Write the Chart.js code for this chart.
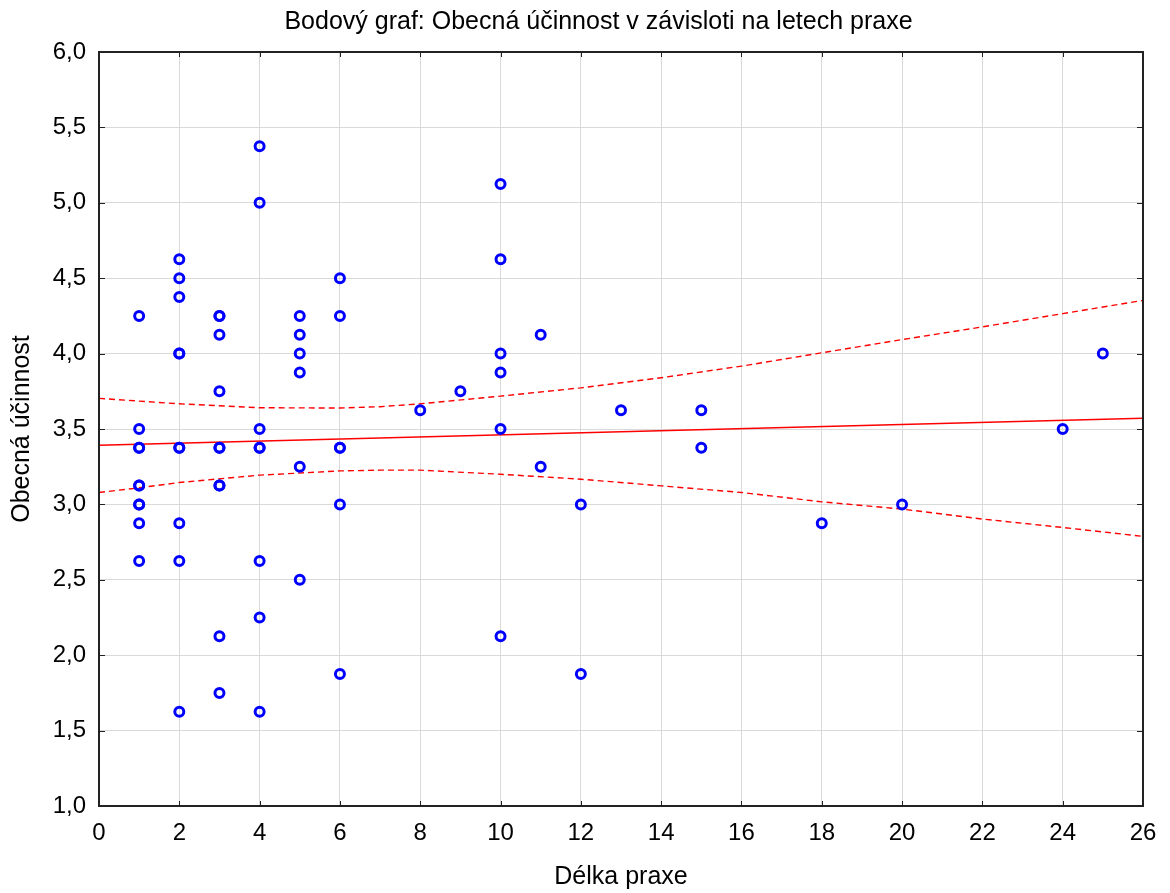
<!DOCTYPE html>
<html>
<head>
<meta charset="utf-8">
<script src="https://cdn.jsdelivr.net/npm/chart.js@4"></script>
<style>
  html, body { margin: 0; padding: 0; background: #fff; }
  #wrap { width: 1170px; height: 893px; }
</style>
</head>
<body>
<div id="wrap"><canvas id="myChart" width="1170" height="893"></canvas></div>
<script>
// Délka praxe (x) and Obecná účinnost (y) for each respondent
const praxe = [
  1, 1, 1, 1, 1, 1, 1, 1, 1, 1,
  2, 2, 2, 2, 2, 2, 2, 2, 2, 2,
  3, 3, 3, 3, 3, 3, 3, 3, 3, 3,
  4, 4, 4, 4, 4, 4, 4, 4,
  5, 5, 5, 5, 5, 5,
  6, 6, 6, 6, 6, 6,
  8, 9, 10, 10, 10, 10, 10, 10, 11, 11, 12, 12, 13, 15, 15, 18, 20, 24, 25
];
const ucinnost = [
  4.25, 3.5, 3.375, 3.375, 3.125, 3.125, 3.0, 3.0, 2.875, 2.625,
  4.625, 4.5, 4.375, 4.0, 4.0, 3.375, 3.375, 2.875, 2.625, 1.625,
  4.25, 4.25, 4.125, 3.75, 3.375, 3.375, 3.125, 3.125, 2.125, 1.75,
  5.375, 5.0, 3.5, 3.375, 3.375, 2.625, 2.25, 1.625,
  4.25, 4.125, 4.0, 3.875, 3.25, 2.5,
  4.5, 4.25, 3.375, 3.375, 3.0, 1.875,
  3.625, 3.75, 5.125, 4.625, 4.0, 3.875, 3.5, 2.125, 4.125, 3.25, 3.0, 1.875, 3.625, 3.625, 3.375, 2.875, 3.0, 3.5, 4.0
];

// regression line and 95% band
const fitX = [0, 26];
const fitY = [3.392, 3.571];
const bandX = [0, 1, 2, 4, 6, 7, 8, 10, 12, 14, 16, 18, 20, 22, 24, 26];
const bandUpper = [3.703, 3.685, 3.667, 3.641, 3.639, 3.648, 3.667, 3.718, 3.773, 3.84, 3.917, 4.005, 4.093, 4.177, 4.265, 4.353];
const bandLower = [3.079, 3.11, 3.145, 3.194, 3.222, 3.227, 3.227, 3.20, 3.167, 3.123, 3.079, 3.017, 2.969, 2.903, 2.847, 2.788];

function toPts(xs, ys) { return xs.map((x, i) => ({x: x, y: ys[i]})) }

const FONT = "'Liberation Sans', Arial, sans-serif";

// frame round the plot with short ticks pointing inwards
const framePlugin = {
  id: 'frame',
  afterLayout(chart) {
    // title sits a bit right of the canvas centre, like the original
    const t = chart.titleBlock;
    if (t) { t.left = 54; t.width = t.right - t.left }
  },
  afterDraw(chart) {
    const ctx = chart.ctx, a = chart.chartArea;
    const xs = chart.scales.x, ys = chart.scales.y;
    ctx.save();
    ctx.strokeStyle = '#222';
    ctx.lineWidth = 1;
    ctx.beginPath();
    xs.ticks.forEach(t => {
      const px = Math.round(xs.getPixelForValue(t.value)) + 0.5;
      ctx.moveTo(px, a.bottom); ctx.lineTo(px, a.bottom - 5);
      ctx.moveTo(px, a.top); ctx.lineTo(px, a.top + 5);
    });
    ys.ticks.forEach(t => {
      const py = Math.round(ys.getPixelForValue(t.value)) + 0.5;
      ctx.moveTo(a.left, py); ctx.lineTo(a.left + 6, py);
      ctx.moveTo(a.right, py); ctx.lineTo(a.right - 6, py);
    });
    ctx.stroke();
    ctx.lineWidth = 2;
    ctx.strokeRect(a.left, a.top, a.right - a.left, a.bottom - a.top);
    ctx.restore();
  }
};

new Chart(document.getElementById('myChart').getContext('2d'), {
  type: 'scatter',
  data: {
    datasets: [
      {
        data: toPts(praxe, ucinnost),
        pointStyle: 'circle',
        pointRadius: 4.5,
        pointBorderWidth: 3,
        pointBorderColor: '#0000ff',
        borderColor: '#0000ff',
        backgroundColor: 'rgba(0,0,0,0)',
        order: 0
      },
      {
        type: 'line',
        data: toPts(fitX, fitY),
        borderColor: '#ff0000',
        borderWidth: 1.5,
        pointRadius: 0,
        fill: false,
        order: 1
      },
      {
        type: 'line',
        data: toPts(bandX, bandUpper),
        borderColor: '#ff0000',
        borderWidth: 1.4,
        borderDash: [6, 4],
        pointRadius: 0,
        fill: false,
        order: 1
      },
      {
        type: 'line',
        data: toPts(bandX, bandLower),
        borderColor: '#ff0000',
        borderWidth: 1.4,
        borderDash: [6, 4],
        pointRadius: 0,
        fill: false,
        order: 1
      }
    ]
  },
  options: {
    responsive: false,
    animation: false,
    layout: { padding: { left: 0, right: 27, top: 0, bottom: 0 } },
    plugins: {
      legend: { display: false },
      tooltip: { enabled: false },
      title: {
        display: true,
        text: 'Bodový graf: Obecná účinnost v závisloti na letech praxe',
        color: '#000',
        font: { family: FONT, size: 25, weight: 'normal' },
        padding: { top: 7, bottom: 15 }
      }
    },
    scales: {
      x: {
        type: 'linear',
        min: 0, max: 26,
        border: { display: false },
        grid: { color: '#d9d9d9', lineWidth: 1, drawTicks: false },
        ticks: {
          stepSize: 2,
          padding: 13,
          color: '#000',
          font: { family: FONT, size: 24 }
        },
        title: {
          display: true,
          text: 'Délka praxe',
          color: '#000',
          font: { family: FONT, size: 25 },
          padding: { top: 4, bottom: 1 }
        },
        afterFit(scale) { scale.height = 87 }
      },
      y: {
        type: 'linear',
        min: 1, max: 6,
        border: { display: false },
        grid: { color: '#d9d9d9', lineWidth: 1, drawTicks: false },
        ticks: {
          stepSize: 0.5,
          padding: 13,
          color: '#000',
          font: { family: FONT, size: 24 },
          callback: v => v.toFixed(1).replace('.', ',')
        },
        title: {
          display: true,
          text: 'Obecná účinnost',
          color: '#000',
          font: { family: FONT, size: 25 },
          padding: { top: 7, bottom: 4 }
        },
        afterFit(scale) { scale.width = 99 }
      }
    }
  },
  plugins: [framePlugin]
});
</script>
</body>
</html>
